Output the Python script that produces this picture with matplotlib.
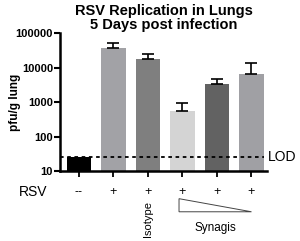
import numpy as np
import matplotlib
matplotlib.use('Agg')
import matplotlib.pyplot as plt
from matplotlib.patches import Polygon

plt.rcParams['font.family'] = ['Liberation Sans', 'DejaVu Sans']

# data
groups = ['--', '+', '+', '+', '+', '+']
values = [25, 38500, 18400, 550, 3470, 6750]
err_up = [0, 13000, 6300, 410, 1330, 6650]
colors = ['#000000', '#a2a2a6', '#7f7f7f', '#d4d4d4', '#626262', '#a0a0a4']
LOD = 25
yticks = [10, 100, 1000, 10000, 100000]

fig = plt.figure(figsize=(3.0, 2.41), dpi=100)
ax = fig.add_axes([0.2, 0.29, 0.69, 0.572])

x = np.arange(len(values))
ax.bar(x, values, width=0.7, color=colors, zorder=2)
ax.errorbar(x[1:], values[1:], yerr=[np.zeros(5), err_up[1:]], fmt='none',
            ecolor='black', elinewidth=1.2, capsize=4, capthick=1.2, zorder=3)
ax.axhline(LOD, color='black', linestyle=(0, (2, 2)), linewidth=1.3, zorder=4,
           xmin=0.0, xmax=0.985)

ax.set_yscale('log')
ax.set_ylim(10, 100000)
ax.set_xlim(-0.55, 5.45)
ax.set_yticks(yticks)
ax.set_yticklabels([str(t) for t in yticks], fontsize=8, fontweight='bold')
ax.set_xticks(x)
ax.set_xticklabels([''] * len(x))
ax.tick_params(axis='y', which='major', length=4, width=1.5, pad=1)
ax.tick_params(axis='y', which='minor', length=2.5, width=1)
ax.tick_params(axis='x', length=4, width=1.3)

for s in ['top', 'right']:
    ax.spines[s].set_visible(False)
for s in ['left', 'bottom']:
    ax.spines[s].set_linewidth(1.8)

ax.set_ylabel('pfu/g lung', fontsize=8.5, fontweight='bold')
ax.yaxis.set_label_coords(-0.19, 0.5)
ax.set_title('RSV Replication in Lungs\n5 Days post infection', fontsize=10.5,
             fontweight='bold', linespacing=1.05, pad=3)

ax.text(1.005, LOD, 'LOD', transform=ax.get_yaxis_transform(), fontsize=10,
        va='center', ha='left')

# row labels below axis
ty = -0.15
ax.text(-0.13, ty, 'RSV', transform=ax.transAxes, fontsize=10, ha='center', va='center')
for xi, g in zip(x, groups):
    ax.text(xi, ty, g, transform=ax.get_xaxis_transform(), fontsize=9,
            ha='center', va='center')
ax.text(2, -0.22, 'Isotype', transform=ax.get_xaxis_transform(), fontsize=8,
        rotation=90, ha='center', va='top')
tri = Polygon([(2.9, -0.2), (2.9, -0.295), (5.0, -0.295)], closed=True, fill=False,
              edgecolor='#444444', linewidth=0.7,
              transform=ax.get_xaxis_transform(), clip_on=False)
ax.add_patch(tri)
ax.text(3.95, -0.41, 'Synagis', transform=ax.get_xaxis_transform(), fontsize=8.5,
        ha='center', va='center')

fig.savefig('out.png', dpi=100)
